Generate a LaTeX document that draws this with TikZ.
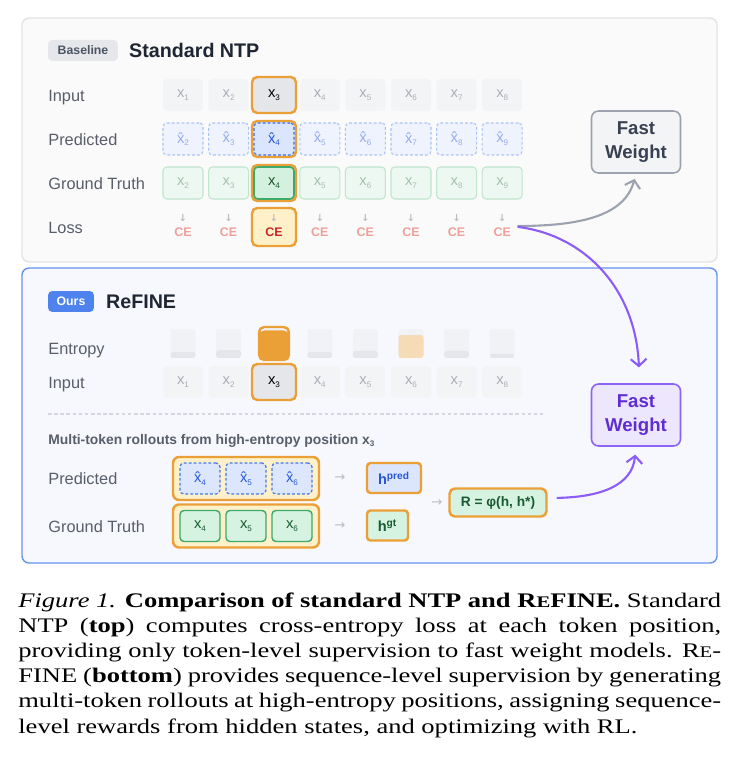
\documentclass[tikz,border=0pt]{standalone}
\usepackage{fontspec}
\setmainfont{Liberation Sans}
\setsansfont{Liberation Sans}
\newfontfamily\capfont{Liberation Serif}[FakeStretch=1.28]
\newfontfamily\symfont{DejaVu Sans}
\usetikzlibrary{positioning,arrows.meta}
\definecolor{topFill}{RGB}{250,250,250}
\definecolor{topLine}{RGB}{226,227,230}
\definecolor{botFill}{RGB}{247,248,253}
\definecolor{botLine}{RGB}{105,148,237}
\definecolor{labGray}{RGB}{88,94,106}
\definecolor{titleDark}{RGB}{31,38,51}
\definecolor{badgeGray}{RGB}{229,231,235}
\definecolor{badgeText}{RGB}{75,85,99}
\definecolor{oursBlue}{RGB}{78,130,236}
\definecolor{inFill}{RGB}{243,244,246}
\definecolor{inText}{RGB}{170,174,181}
\definecolor{inHiFill}{RGB}{228,230,234}
\definecolor{prFill}{RGB}{238,243,254}
\definecolor{prLine}{RGB}{170,195,245}
\definecolor{prText}{RGB}{150,172,235}
\definecolor{prHiFill}{RGB}{219,230,253}
\definecolor{prHiLine}{RGB}{55,105,225}
\definecolor{prHiText}{RGB}{40,85,215}
\definecolor{gtFill}{RGB}{236,248,241}
\definecolor{gtLine}{RGB}{190,230,205}
\definecolor{gtText}{RGB}{165,192,176}
\definecolor{gtHiFill}{RGB}{211,241,222}
\definecolor{gtHiLine}{RGB}{61,169,106}
\definecolor{gtHiText}{RGB}{25,85,45}
\definecolor{ceText}{RGB}{238,160,155}
\definecolor{ceHiText}{RGB}{200,40,40}
\definecolor{lossFill}{RGB}{254,241,201}
\definecolor{arrGray}{RGB}{185,189,195}
\definecolor{hiOrange}{RGB}{234,160,54}
\definecolor{fwFill}{RGB}{243,244,246}
\definecolor{fwLine}{RGB}{156,163,175}
\definecolor{fwText}{RGB}{55,65,81}
\definecolor{fwPFill}{RGB}{237,231,254}
\definecolor{fwPLine}{RGB}{140,100,245}
\definecolor{fwPText}{RGB}{95,45,210}
\definecolor{purp}{RGB}{139,92,246}
\definecolor{entBg}{RGB}{241,242,245}
\definecolor{entLvl}{RGB}{228,230,234}
\definecolor{entWarm}{RGB}{245,220,182}
\definecolor{sepGray}{RGB}{212,215,221}
\definecolor{rollPrFill}{RGB}{220,231,253}
\definecolor{rollPrLine}{RGB}{70,120,230}
\definecolor{rollPrText}{RGB}{40,90,215}
\definecolor{rollGtFill}{RGB}{214,242,224}
\definecolor{rollGtLine}{RGB}{61,169,106}
\definecolor{rollGtText}{RGB}{25,90,50}
% token with lowered index, hatted token, small down arrow
\newcommand\tk[2]{#1\raisebox{-0.35ex}{\fontsize{4.6}{5}\selectfont #2}}
\newcommand\tkh[1]{\^x\raisebox{-0.35ex}{\fontsize{4.6}{5}\selectfont #1}}
\newcommand\dn{{\symfont\fontsize{5.5}{6}\selectfont\color{arrGray}↓}}
\newcommand\capsmall[1]{{\fontsize{9.2}{10}\selectfont #1}}
\tikzset{
  panel/.style={rounded corners=4pt,line width=0.8pt},
  rowlab/.style={anchor=base west,inner sep=0pt,text=labGray,font=\fontsize{9.3}{11}\selectfont},
  title/.style={inner sep=0pt,text=titleDark,font=\bfseries\fontsize{11.2}{13}\selectfont},
  badge/.style={rounded corners=2.5pt,inner sep=0pt,minimum height=0.42cm,font=\bfseries\fontsize{7}{8}\selectfont},
  cell/.style={rounded corners=2.2pt,minimum width=0.8cm,minimum height=0.64cm,inner sep=0pt,font=\fontsize{8.4}{9}\selectfont},
  incell/.style={cell,fill=inFill,text=inText},
  prcell/.style={cell,fill=prFill,draw=prLine,dash pattern=on 1.6pt off 1.2pt,line width=0.6pt,text=prText},
  gtcell/.style={cell,fill=gtFill,draw=gtLine,line width=0.6pt,text=gtText},
  hiring/.style={rounded corners=3pt,draw=hiOrange,line width=1.4pt,minimum width=0.88cm,minimum height=0.72cm,inner sep=0pt},
  losstxt/.style={align=center,inner sep=0pt,text=ceText,font=\bfseries\fontsize{7.1}{8.5}\selectfont},
  fastw/.style={rounded corners=4pt,minimum width=1.78cm,minimum height=1.24cm,align=center,line width=0.9pt,font=\bfseries\fontsize{10.6}{13.8}\selectfont},
  entbar/.style 2 args={rounded corners=1.5pt,minimum width=0.5cm,minimum height=0.58cm,inner sep=0pt,fill=entBg,
    path picture={\fill[#1] (path picture bounding box.south west) rectangle ([yshift=#2]path picture bounding box.south east);}},
  grpbox/.style={rounded corners=3.5pt,fill=lossFill,draw=hiOrange,line width=1.4pt,minimum width=2.92cm,minimum height=0.86cm,inner sep=0pt},
  prroll/.style={cell,minimum height=0.62cm,fill=rollPrFill,draw=rollPrLine,dash pattern=on 1.6pt off 1.2pt,line width=0.7pt,text=rollPrText},
  gtroll/.style={cell,minimum height=0.62cm,fill=rollGtFill,draw=rollGtLine,line width=0.8pt,text=rollGtText},
  hbox/.style={rounded corners=2pt,draw=hiOrange,line width=1.4pt,minimum height=0.6cm,inner sep=0pt,font=\bfseries\fontsize{8.3}{9}\selectfont},
  smallarr/.style={inner sep=0pt,text=arrGray,font=\symfont\fontsize{7.5}{8}\selectfont},
  flow/.style={-{Straight Barb[length=4pt,width=9pt]},line width=1.2pt,line cap=round},
}
\begin{document}
\begin{tikzpicture}[x=0.02cm,y=-0.02cm,font=\sffamily]
  \useasboundingbox (0,0) rectangle (740,780);
  \fill[white] (0,0) rectangle (740,780);
  % panels
  \draw[panel,fill=topFill,draw=topLine] (22,18) rectangle (717,262);
  \draw[panel,fill=botFill,draw=botLine] (22,268) rectangle (717,563);

  % ---- baseline: standard NTP
  \node[badge,fill=badgeGray,text=badgeText,minimum width=1.4cm] (bBase) at (83,50.5) {Baseline};
  \node[title,right=6pt of bBase] (tBase) {Standard NTP};
  \node[rowlab] (lIn) at (48,101.5) {Input};
  \node[rowlab] (lPr) at (48,145.5) {Predicted};
  \node[rowlab] (lGt) at (48,189.5) {Ground Truth};
  \node[rowlab] (lLoss) at (48,234) {Loss};
  \foreach \i [evaluate=\i as \x using 183+45.6*(\i-1), evaluate=\i as \j using int(\i+1)] in {1,2,4,5,6,7,8} {
    \node[incell] (in\i) at (\x,95) {\tk{x}{\i}};
    \node[prcell] (pr\i) at (\x,139) {\tkh{\j}};
    \node[gtcell] (gt\i) at (\x,183) {\tk{x}{\j}};
    \node[losstxt] (ce\i) at (\x,226) {\dn\\CE};
  }
  % highlighted position x3
  \node[hiring,fill=inHiFill,text=black,font=\fontsize{8.4}{9}\selectfont] (in3) at (274,95) {\tk{x}{3}};
  \node[hiring,fill=prHiFill] (pr3o) at (274,139) {};
  \node[prcell,fill=prHiFill,draw=prHiLine,text=prHiText] (pr3) at (274,139) {\tkh{4}};
  \node[hiring,fill=gtHiFill] (gt3o) at (274,183) {};
  \node[gtcell,fill=gtHiFill,draw=gtHiLine,line width=0.9pt,text=gtHiText] (gt3) at (274,183) {\tk{x}{4}};
  \node[hiring,fill=lossFill,minimum height=0.76cm] (ce3o) at (274,227) {};
  \node[losstxt,text=ceHiText] (ce3) at (274,226) {\dn\\CE};
  \node[fastw,fill=fwFill,draw=fwLine,text=fwText] (fwT) at (636,142) {Fast\\Weight};
  \draw[flow,draw=fwLine,shorten <=4pt,shorten >=3pt] (ce8.east) .. controls (585,226) and (625,214) .. (fwT.south);

  % ---- ours: ReFINE
  \node[badge,fill=oursBlue,text=white,minimum width=0.92cm] (bOurs) at (71,301.5) {Ours};
  \node[title,right=6.5pt of bOurs] (tOurs) {ReFINE};
  \node[rowlab] (lEnt) at (48,354.5) {Entropy};
  \node[rowlab] (lIn2) at (48,388.5) {Input};
  \foreach \i/\c/\h [evaluate=\i as \x using 183+45.6*(\i-1)] in {1/entLvl/3.4pt,2/entLvl/4.5pt,4/entLvl/3.4pt,5/entLvl/4pt,6/entWarm/13pt,7/entLvl/4pt,8/entLvl/2.3pt} {
    \node[entbar={\c}{\h}] (ent\i) at (\x,343.5) {};
    \node[incell] (inb\i) at (\x,382) {\tk{x}{\i}};
  }
  \node[entbar={hiOrange}{16.8pt},draw=hiOrange,line width=1.4pt,rounded corners=3pt,minimum width=0.6cm,minimum height=0.66cm] (ent3) at (274,343.5) {};
  \node[hiring,fill=inHiFill,text=black,font=\fontsize{8.4}{9}\selectfont] (inb3) at (274,382) {\tk{x}{3}};
  \draw[sepGray,line width=0.6pt,dash pattern=on 2pt off 1.5pt] (48,414) -- (545,414);
  \node[anchor=base west,inner sep=0pt,text=labGray,font=\bfseries\fontsize{7.9}{9}\selectfont] (mtTitle) at (48,444) {Multi-token rollouts from high-entropy position \tk{x}{3}};
  \node[rowlab] (lPr2) at (48,484.5) {Predicted};
  \node[rowlab] (lGt2) at (48,532.5) {Ground Truth};
  \node[grpbox] (prGrp) at (246,478.5) {};
  \node[grpbox] (gtGrp) at (246,526) {};
  \foreach \k/\x in {4/200,5/246,6/292} {
    \node[prroll] (rp\k) at (\x,478.5) {\tkh{\k}};
    \node[gtroll] (rg\k) at (\x,526) {\tk{x}{\k}};
  }
  \node[smallarr] (arPr) at (340,478) {→};
  \node[smallarr] (arGt) at (340,526) {→};
  \node[hbox,fill=prHiFill,text=prHiText,minimum width=1.08cm] (hPred) at (394,478) {h\textsuperscript{pred}};
  \node[hbox,fill=rollGtFill,text=rollGtText,minimum width=0.82cm] (hGt) at (387.5,525.5) {h\textsuperscript{gt}};
  \node[smallarr] (arR) at (437,503) {→};
  \node[hbox,fill=rollGtFill,text=rollGtText,minimum width=1.94cm,minimum height=0.56cm,rounded corners=3pt,font=\bfseries\fontsize{7.8}{9}\selectfont] (rBox) at (498,502.5) {R = φ(h, h*)};
  \node[fastw,fill=fwPFill,draw=fwPLine,text=fwPText] (fwB) at (636,415) {Fast\\Weight};
  \draw[flow,draw=purp,shorten <=4pt,shorten >=9pt] (ce8.east) .. controls (588,236) and (636,292) .. ([xshift=2pt]fwB.north);
  \draw[flow,draw=purp,shorten <=5.5pt,shorten >=4.5pt] ([yshift=2.5pt]rBox.east) .. controls (600,497) and (632,486) .. (fwB.south);

  % caption
  \node[anchor=base west,inner sep=0pt,text width=14.06cm,align=justify,font=\capfont\fontsize{11.8}{14.35}\selectfont] (cap) at (18,607)
    {\textit{Figure 1.} \textbf{Comparison of standard NTP and R\capsmall{E}FINE.} Standard\linebreak
     NTP (\textbf{top}) computes cross-entropy loss at each token position,\linebreak
     providing only token-level supervision to fast weight models. R\capsmall{E}-\linebreak
     FINE (\textbf{bottom}) provides sequence-level supervision by generating\linebreak
     multi-token rollouts at high-entropy positions, assigning sequence-\linebreak
     level rewards from hidden states, and optimizing with RL.};
\end{tikzpicture}
\end{document}
